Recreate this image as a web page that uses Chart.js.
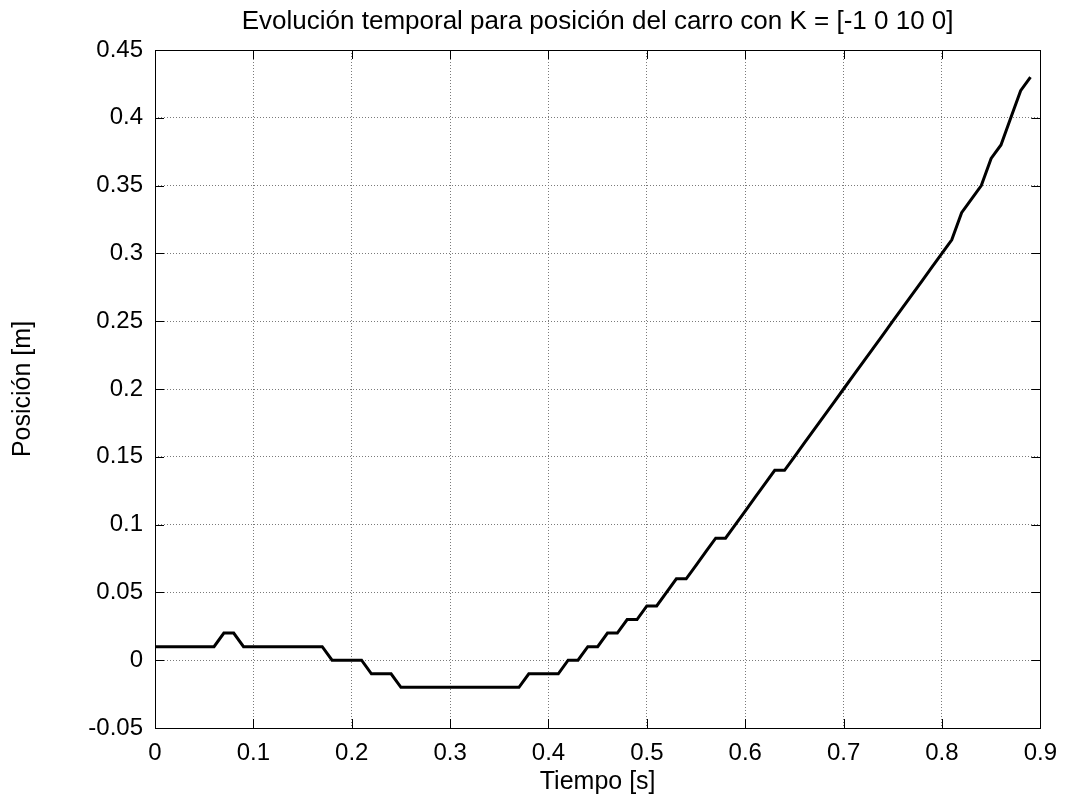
<!DOCTYPE html>
<html>
<head>
<meta charset="utf-8">
<script src="https://cdn.jsdelivr.net/npm/chart.js@4.4.0/dist/chart.umd.min.js"></script>
<style>
  html, body { margin: 0; background: #fff; }
</style>
</head>
<body>
<canvas id="grafica" width="1068" height="807"></canvas>
<script>
// muestras del carro, una cada 0.01 s
const tiempo = [
  0.00, 0.01, 0.02, 0.03, 0.04, 0.05, 0.06, 0.07, 0.08, 0.09,
  0.10, 0.11, 0.12, 0.13, 0.14, 0.15, 0.16, 0.17, 0.18, 0.19,
  0.20, 0.21, 0.22, 0.23, 0.24, 0.25, 0.26, 0.27, 0.28, 0.29,
  0.30, 0.31, 0.32, 0.33, 0.34, 0.35, 0.36, 0.37, 0.38, 0.39,
  0.40, 0.41, 0.42, 0.43, 0.44, 0.45, 0.46, 0.47, 0.48, 0.49,
  0.50, 0.51, 0.52, 0.53, 0.54, 0.55, 0.56, 0.57, 0.58, 0.59,
  0.60, 0.61, 0.62, 0.63, 0.64, 0.65, 0.66, 0.67, 0.68, 0.69,
  0.70, 0.71, 0.72, 0.73, 0.74, 0.75, 0.76, 0.77, 0.78, 0.79,
  0.80, 0.81, 0.82, 0.83, 0.84, 0.85, 0.86, 0.87, 0.88, 0.89
];
const posicion = [
  0.01, 0.01, 0.01, 0.01, 0.01, 0.01, 0.01, 0.02, 0.02, 0.01,
  0.01, 0.01, 0.01, 0.01, 0.01, 0.01, 0.01, 0.01, 0.00, 0.00,
  0.00, 0.00, -0.01, -0.01, -0.01, -0.02, -0.02, -0.02, -0.02, -0.02,
  -0.02, -0.02, -0.02, -0.02, -0.02, -0.02, -0.02, -0.02, -0.01, -0.01,
  -0.01, -0.01, 0.00, 0.00, 0.01, 0.01, 0.02, 0.02, 0.03, 0.03,
  0.04, 0.04, 0.05, 0.06, 0.06, 0.07, 0.08, 0.09, 0.09, 0.10,
  0.11, 0.12, 0.13, 0.14, 0.14, 0.15, 0.16, 0.17, 0.18, 0.19,
  0.20, 0.21, 0.22, 0.23, 0.24, 0.25, 0.26, 0.27, 0.28, 0.29,
  0.30, 0.31, 0.33, 0.34, 0.35, 0.37, 0.38, 0.40, 0.42, 0.43
];

const titulo = 'Evolución temporal para posición del carro con K = [-1 0 10 0]';
const ejeX = 'Tiempo [s]';
const ejeY = 'Posición [m]';

const fuente = '"Liberation Sans", Arial, sans-serif';

const fmt = v => String(Number(v.toFixed(2)));

// caja del eje con marcas hacia dentro en los cuatro lados
const marco = {
  id: 'marco',
  beforeDatasetsDraw(chart) {
    const { ctx, chartArea: a, scales } = chart;
    const largo = 9;
    ctx.save();
    ctx.strokeStyle = '#000';
    ctx.lineWidth = 1;
    ctx.beginPath();
    scales.x.ticks.forEach(t => {
      const px = Math.round(scales.x.getPixelForValue(t.value)) + 0.5;
      ctx.moveTo(px, a.bottom); ctx.lineTo(px, a.bottom - largo);
      ctx.moveTo(px, a.top); ctx.lineTo(px, a.top + largo);
    });
    scales.y.ticks.forEach(t => {
      const py = Math.round(scales.y.getPixelForValue(t.value)) + 0.5;
      ctx.moveTo(a.left, py); ctx.lineTo(a.left + largo, py);
      ctx.moveTo(a.right, py); ctx.lineTo(a.right - largo, py);
    });
    ctx.stroke();
    ctx.strokeRect(Math.round(a.left) + 0.5, Math.round(a.top) + 0.5,
      Math.round(a.right - a.left), Math.round(a.bottom - a.top));
    ctx.restore();
  },
  // título centrado sobre el área de los ejes
  afterDraw(chart) {
    const { ctx, chartArea: a } = chart;
    ctx.save();
    ctx.fillStyle = '#000';
    ctx.font = '26px ' + fuente;
    ctx.textAlign = 'center';
    ctx.textBaseline = 'middle';
    ctx.fillText(titulo, (a.left + a.right) / 2, 22);
    ctx.restore();
  }
};

new Chart(document.getElementById('grafica'), {
  type: 'line',
  data: {
    datasets: [{
      data: tiempo.map((t, i) => ({ x: t, y: posicion[i] })),
      borderColor: '#000',
      borderWidth: 3,
      pointRadius: 0,
      tension: 0,
      fill: false
    }]
  },
  options: {
    responsive: false,
    animation: false,
    layout: { padding: { left: 0, right: 26, top: 50, bottom: 0 } },
    plugins: {
      legend: { display: false },
      tooltip: { enabled: false },
      title: { display: false }
    },
    scales: {
      x: {
        type: 'linear',
        min: 0,
        max: 0.9,
        grid: { color: '#7a7a7a', lineWidth: 1, drawTicks: false },
        border: { display: false, dash: [1, 2] },
        ticks: {
          stepSize: 0.1,
          color: '#000',
          padding: 11,
          maxRotation: 0,
          font: { family: fuente, size: 24 },
          callback: fmt
        },
        title: {
          display: true,
          text: ejeX,
          color: '#000',
          font: { family: fuente, size: 25 },
          padding: { top: 0, bottom: 10 }
        },
        afterFit(s) { s.height = 79; }
      },
      y: {
        type: 'linear',
        min: -0.05,
        max: 0.45,
        grid: { color: '#7a7a7a', lineWidth: 1, drawTicks: false },
        border: { display: false, dash: [1, 2] },
        ticks: {
          stepSize: 0.05,
          color: '#000',
          padding: 12,
          font: { family: fuente, size: 24 },
          callback: fmt
        },
        title: {
          display: true,
          text: ejeY,
          color: '#000',
          font: { family: fuente, size: 25 },
          padding: { top: 8, bottom: 0 }
        },
        afterFit(s) { s.width = 155; }
      }
    }
  },
  plugins: [marco]
});
</script>
</body>
</html>
